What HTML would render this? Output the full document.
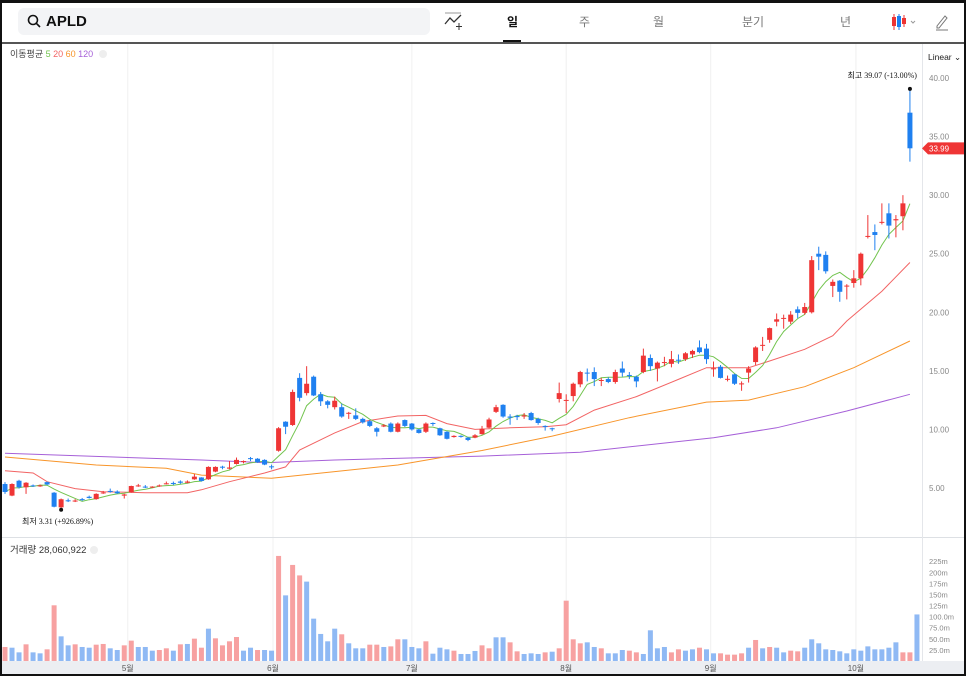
<!DOCTYPE html>
<html><head><meta charset="utf-8">
<style>
html,body{margin:0;padding:0;background:#111;width:966px;height:676px;overflow:hidden;font-family:"Liberation Sans","Noto Sans CJK KR",sans-serif;}
#panel{position:absolute;left:2px;top:3px;width:962px;height:671px;background:#fff;}
.abs{position:absolute;}
#search{left:16px;top:5px;width:412px;height:27px;background:#f3f4f6;border-radius:6px;}
#search .t{left:28px;top:5px;font-size:15px;font-weight:bold;color:#111;}
.tab{top:10px;font-size:12px;color:#777;}
</style></head>
<body>
<div id="panel">
  <div id="search" class="abs">
    <svg class="abs" style="left:9px;top:6px" width="14" height="14"><circle cx="6" cy="6" r="4.5" fill="none" stroke="#111" stroke-width="1.6"/><line x1="9.3" y1="9.3" x2="13" y2="13" stroke="#111" stroke-width="1.6"/></svg>
    <div class="abs t">APLD</div>
  </div>
  <svg class="abs" style="left:442px;top:9px" width="20" height="20"><line x1="1" y1="1" x2="17" y2="1" stroke="#999"/><polyline points="1,12 6,6 10,10 17,3" fill="none" stroke="#333" stroke-width="1.3"/><line x1="15" y1="11" x2="15" y2="18" stroke="#333"/><line x1="12" y1="14.5" x2="18" y2="14.5" stroke="#333"/></svg>
  <div class="abs tab" style="left:505px;color:#111;font-weight:bold">일</div>
  <div class="abs" style="left:501px;top:37px;width:18px;height:3px;background:#111"></div>
  <div class="abs tab" style="left:577px">주</div>
  <div class="abs tab" style="left:651px">월</div>
  <div class="abs tab" style="left:740px">분기</div>
  <div class="abs tab" style="left:838px">년</div>
  <svg class="abs" style="left:888px;top:9px" width="28" height="20"><line x1="4" y1="2" x2="4" y2="18" stroke="#ee3333"/><rect x="2" y="5" width="4" height="9" fill="#ee3333"/><line x1="9" y1="2" x2="9" y2="18" stroke="#1c7ff0"/><rect x="7" y="4" width="4" height="11" fill="#1c7ff0"/><line x1="14" y1="3" x2="14" y2="15" stroke="#ee3333"/><rect x="12" y="6" width="4" height="6" fill="#ee3333"/><polyline points="21,9 23,11 25,9" fill="none" stroke="#999"/></svg>
  <svg class="abs" style="left:932px;top:9px" width="16" height="20"><path d="M3,14 L11,4 L13,6 L5,16 L3,16 Z" fill="none" stroke="#777"/><line x1="2" y1="18" x2="14" y2="18" stroke="#777"/></svg>
  <div class="abs" style="left:0;top:39px;width:962px;height:2px;background:#555"></div>
</div>
<svg id="chart" class="abs" style="left:0;top:0" width="966" height="676"></svg>
<script>
const opens=[5.34,4.35,5.62,5.06,5.22,5.18,5.5,4.6,3.35,3.95,3.88,4.05,4.25,4.05,4.55,4.75,4.7,4.35,4.63,5.15,5.12,5.05,5.17,5.35,5.43,5.55,5.45,5.74,5.9,5.74,6.4,6.82,6.65,7.05,7.25,7.55,7.5,7.4,6.85,8.18,10.66,10.38,14.4,13.1,14.5,13.0,12.4,11.9,11.9,11.35,11.2,10.9,10.7,10.1,10.25,10.5,9.8,10.8,10.5,10.0,9.8,10.55,10.1,9.8,9.35,9.45,9.3,9.3,9.6,10.15,11.5,12.1,11.1,11.15,11.1,11.4,10.9,10.3,10.1,12.6,12.48,12.85,13.85,14.85,14.9,14.15,14.3,14.05,15.2,14.65,14.5,14.9,16.1,15.2,15.68,15.6,15.95,16.0,16.4,17.0,16.9,15.15,15.35,14.25,14.7,13.88,14.85,15.75,17.15,17.65,19.2,19.45,19.2,20.25,19.95,20.0,25.0,24.9,22.25,22.7,22.2,22.5,22.9,26.45,26.85,27.65,28.45,27.85,28.2,37.04];
const highs=[5.5,5.4,5.7,5.5,5.3,5.3,5.55,4.65,4.1,4.1,4.05,4.15,4.35,4.55,4.75,4.95,4.8,4.5,5.2,5.35,5.25,5.15,5.3,5.55,5.55,5.65,5.65,6.2,5.92,6.85,6.85,6.9,7.3,7.6,7.35,7.65,7.55,7.45,7.0,10.2,10.7,13.4,14.8,15.4,14.6,13.2,12.5,12.8,12.2,11.5,11.8,11.0,10.8,10.2,10.45,10.6,10.6,10.85,10.55,10.05,10.6,10.6,10.15,9.85,9.5,9.5,9.35,9.6,10.3,11.0,12.1,12.15,11.3,11.25,11.4,11.5,11.0,10.35,10.15,14.0,13.0,14.0,15.0,15.2,15.3,14.4,14.45,15.1,15.8,14.9,14.6,16.9,16.4,15.8,16.2,16.7,16.4,16.6,16.8,17.6,17.3,15.8,15.5,14.6,14.75,14.1,15.4,17.1,17.9,18.7,19.9,19.8,20.1,20.5,20.8,24.8,25.6,25.2,22.8,22.75,22.4,23.6,25.1,28.3,27.5,29.3,29.3,28.3,30.0,39.07];
const lows=[4.5,4.3,4.95,4.5,5.1,5.1,5.25,3.35,3.31,3.8,3.8,3.9,4.1,4.0,4.5,4.6,4.5,4.1,4.6,5.1,5.0,5.0,5.1,5.3,5.25,5.35,5.4,5.7,5.55,5.7,6.35,6.6,6.6,7.0,7.1,7.3,7.15,6.95,6.6,8.1,9.6,10.3,12.4,12.9,12.85,12.0,11.8,11.7,11.0,10.9,10.8,10.5,10.2,9.4,10.2,9.75,9.75,10.2,9.9,9.65,9.7,10.3,9.45,9.15,9.3,9.3,9.0,9.25,9.55,10.1,11.4,11.0,10.4,10.8,10.9,10.75,10.4,9.9,9.85,12.3,11.4,12.4,13.6,14.1,13.7,13.7,13.95,13.9,14.5,14.3,13.6,14.8,15.0,14.1,15.4,15.3,15.6,15.85,16.1,16.5,15.6,14.5,14.35,14.1,13.8,13.3,14.0,15.5,16.7,17.4,18.8,18.6,19.0,19.5,19.8,19.9,23.6,23.3,21.3,20.9,21.1,22.1,22.3,26.3,25.3,27.5,26.3,26.4,27.0,32.86];
const closes=[4.66,5.34,5.06,5.45,5.18,5.22,5.3,3.4,4.04,3.9,3.93,4.0,4.15,4.5,4.62,4.68,4.55,4.45,5.17,5.22,5.08,5.12,5.22,5.4,5.38,5.45,5.55,5.97,5.6,6.8,6.8,6.75,6.75,7.4,7.3,7.5,7.2,7.0,6.8,10.1,10.23,13.2,12.7,13.9,12.9,12.4,12.1,12.45,11.1,11.42,10.9,10.6,10.3,9.8,10.35,9.8,10.5,10.3,10.0,9.7,10.5,10.5,9.5,9.2,9.45,9.4,9.1,9.5,10.05,10.85,11.9,11.1,11.0,11.05,11.2,10.8,10.55,10.25,10.05,13.1,12.52,13.9,14.9,14.78,14.3,14.22,14.05,14.9,14.85,14.58,14.1,16.3,15.4,15.7,15.75,16.0,15.88,16.5,16.7,16.6,16.0,15.22,14.4,14.32,13.9,13.93,15.2,17.0,17.22,18.65,19.4,19.52,19.8,19.95,20.45,24.45,24.75,23.5,22.6,21.75,22.28,22.9,25.0,26.52,26.6,27.72,27.4,27.95,29.3,34.0];
const volumes=[31.6,30,19.5,37.6,19.5,17.3,26.3,125.6,55.6,35.3,37.6,31.6,30,36.8,38.4,28.6,24.8,35.3,45.9,31.6,31.6,23.3,24.8,28.6,23.3,37.6,38.4,50.4,30,72.9,51.1,35.3,44.4,54.1,23.3,30,24.8,24.8,23.3,236.9,148,216.6,193,179,95.5,61,44.4,72.9,60.2,39.9,28.6,28.6,36.8,36.8,31.6,33,48.9,48.9,31.6,28.6,44.4,16.5,30,26.3,23.3,15.8,15.8,22.6,35.3,28.6,53.4,53.4,42.1,21.8,15.8,17.3,15.8,19.5,21,28.6,136,48.9,39.9,42.1,31.6,28.6,17.3,17.3,24.8,23.3,19.5,15.8,69.2,28.6,31.6,19.5,26.3,23.3,26.3,30,26.3,17.3,17.3,14.3,14.3,17.3,30,47.4,28.6,31.6,30,19.5,23.3,21.8,30,48.9,39.9,26.3,24.8,21.8,17.3,26.3,23.3,33,26.3,26.3,30,42.1,19.5,19.5,105];
const volDir="uddudduuddudduudduuddduududuuduuuuddudduduuddddduddduuduuddduddduddduudduuddduduuuudduddduudddduuddudduuuudududduudddddddddddddduuduu";
const ma20Idx=[0,4,6,10,14,20,26,28,32,37,40,42,47,51,56,60,63,67,72,77,80,84,90,96,100,106,109,114,118,120,125,129];
const ma20Val=[6.48,6.28,5.54,4.95,4.68,4.6,4.6,4.85,5.54,6.28,6.8,8.24,9.7,10.68,11.15,11.2,10.5,10.0,10.14,10.23,10.4,11.65,12.8,14.27,15.27,15.27,15.84,16.84,18.0,19.26,21.8,24.25];
const ma60Idx=[0,13,23,28,38,47,56,68,78,89,100,106,114,121,129];
const ma60Val=[7.65,6.96,6.68,6.1,5.83,6.4,6.96,8.2,9.43,11.0,12.33,12.5,13.65,15.27,17.55];
const ma120Idx=[0,28,37,47,68,82,101,110,120,129];
const ma120Val=[7.96,7.39,7.16,7.39,7.72,8.06,9.29,10.14,11.57,13.0];
const priceTicks=[5,10,15,20,25,30,35,40];
const volTicks=[25,50,75,100,125,150,175,200,225];
const volTickLabels=["25.0m","50.0m","75.0m","100.0m","125m","150m","175m","200m","225m"];
const monthIdx=[17.5,38.2,58,80,100.6,121.3];
const monthLabels=["5월","6월","7월","8월","9월","10월"];
const lastPrice=33.99;

const NS="http://www.w3.org/2000/svg";
const svg=document.getElementById('chart');
const xC=i=>5+i*7.015;
const yP=p=>488-(p-5)*11.714;
const yV=v=>661-v*0.4435;
function mk(tag,attrs,parent){const e=document.createElementNS(NS,tag);for(const k in attrs)e.setAttribute(k,attrs[k]);(parent||svg).appendChild(e);return e;}
function txt(x,y,s,size,fill,anchor){const t=mk('text',{x:x,y:y,'font-size':size,fill:fill,'text-anchor':anchor||'start','font-family':'Liberation Sans, Noto Sans CJK KR, sans-serif'});t.textContent=s;return t;}

// grid
monthIdx.forEach((m,k)=>{
  const l=mk('line',{x1:xC(m),x2:xC(m),y1:44,y2:661,stroke:'#f0f0f0'});
  
  
});
// pane separators
let s1=mk('line',{x1:2,x2:964,y1:537.5,y2:537.5,stroke:'#dde0e4'});


let ax=mk('line',{x1:922.5,x2:922.5,y1:44,y2:661,stroke:'#e4e6ea'});


let xs=mk('rect',{x:2,y:661,width:962,height:13,fill:'#eceef2'});


monthIdx.forEach((m,k)=>{
  const t=txt(xC(m),671,monthLabels[k],8,'#555','middle');
  
  
});
priceTicks.forEach(p=>{
  const t=txt(929,yP(p)+3,p.toFixed(2),8,'#888');
  
  
});
volTicks.forEach((v,k)=>{
  const t=txt(929,yV(v)+3,volTickLabels[k],7.5,'#888');
  
  
});

// volume bars
volumes.forEach((v,i)=>{
  const r=mk('rect',{x:xC(i)-2.5,y:yV(v),width:5,height:661-yV(v),fill:volDir[i]==='u'?'#f7a1a1':'#8fb9f4'});
  
  
});

// moving averages
function line(idx,val,color,name){
  const pts=idx.map((i,k)=>xC(i).toFixed(1)+','+yP(val[k]).toFixed(1)).join(' ');
  const pl=mk('polyline',{points:pts,fill:'none',stroke:color,'stroke-width':1});
  
  
}
line(ma120Idx,ma120Val,'#a660d8','ma120-line');
line(ma60Idx,ma60Val,'#f8952a','ma60-line');
line(ma20Idx,ma20Val,'#f26464','ma20-line');
const ma5Idx=[],ma5Val=[];
closes.forEach((c,i)=>{const a=closes.slice(Math.max(0,i-4),i+1);ma5Idx.push(i);ma5Val.push(a.reduce((s,x)=>s+x,0)/a.length);});
line(ma5Idx,ma5Val,'#72c44e','ma5-line');

// candles
opens.forEach((o,i)=>{
  const c=closes[i],up=c>=o,col=up?'#ef3535':'#1f80f0',x=xC(i);
  const w=mk('line',{x1:x,x2:x,y1:yP(highs[i]),y2:yP(lows[i]),stroke:col,'stroke-width':1});
  
  
  const top=yP(Math.max(o,c)),bot=yP(Math.min(o,c));
  const b=mk('rect',{x:x-2.5,y:top,width:5,height:Math.max(1,bot-top),fill:col});
  
  
});

// high / low markers
const hi=Math.max(...highs),hiI=highs.indexOf(hi);
const lo=Math.min(...lows),loI=lows.indexOf(lo);
let d1=mk('circle',{cx:xC(hiI),cy:yP(hi),r:2,fill:'#111'});


let t1=txt(xC(hiI)+7,78,'최고  '+hi.toFixed(2)+' (-13.00%)',8,'#111','end');
t1.setAttribute('font-family','Liberation Serif, Noto Sans CJK KR, serif');


let d2=mk('circle',{cx:xC(loI),cy:yP(lo)+2,r:2,fill:'#111'});


let t2=txt(22,524,'최저  '+lo.toFixed(2)+' (+926.89%)',8,'#111');
t2.setAttribute('font-family','Liberation Serif, Noto Sans CJK KR, serif');



// last price tag
const ly=yP(lastPrice);
let tag=mk('path',{d:`M922,${ly} L928,${ly-6} L964,${ly-6} L964,${ly+6} L928,${ly+6} Z`,fill:'#ef3535'});


let tt=txt(929,ly+3,lastPrice.toFixed(2),8,'#fff');



// legends
const lg=mk('text',{x:10,y:57,'font-size':9,'font-family':'Liberation Sans, Noto Sans CJK KR, sans-serif'});


[['이동평균 ','#444'],['5 ','#72c44e'],['20 ','#f26464'],['60 ','#f8952a'],['120','#a660d8']].forEach(([s,c])=>{const sp=mk('tspan',{fill:c},lg);sp.textContent=s;});
let cx1=mk('circle',{cx:103,cy:54,r:4,fill:'#eee'});


let lin=txt(928,60,'Linear ⌄',8.5,'#222');


let vl=txt(10,553,'거래량 28,060,922',9.5,'#333');


let cx2=mk('circle',{cx:94,cy:550,r:4,fill:'#eee'});


</script>
</body></html>
